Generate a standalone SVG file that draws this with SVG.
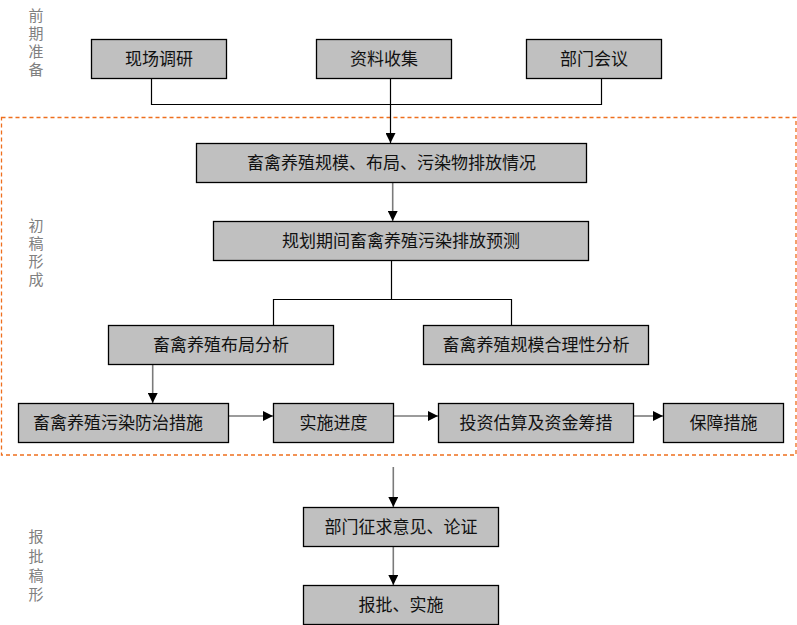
<svg xmlns="http://www.w3.org/2000/svg" width="797" height="625" viewBox="0 0 797 625">
<style>
.box{fill:#C0C0C0;stroke:#000;stroke-width:1.3}
.t{font-family:"Noto Sans CJK SC","Liberation Sans",sans-serif;font-size:17px;fill:#111;text-anchor:middle}
.side{font-family:"Liberation Sans","Noto Sans CJK SC",sans-serif;font-size:15px;fill:#808080;text-anchor:middle}
.blk{fill:none;stroke:#000;stroke-width:1.2}
.gry{fill:none;stroke:#7a7a7a;stroke-width:1.6}
</style>
<defs>
<marker id="ah" viewBox="0 0 10 10" refX="10" refY="5" markerWidth="10" markerHeight="10" markerUnits="userSpaceOnUse" orient="auto">
<path d="M0,0 L10,5 L0,10 Z" fill="#000"/>
</marker>
</defs>
<rect id="frame" x="1.5" y="117.5" width="794.5" height="337.5" fill="none" stroke="#EE6F1E" stroke-width="1.3" stroke-dasharray="4,3"/>
<g id="labels">
<text class="side" x="36" y="21">前</text>
<text class="side" x="36" y="39">期</text>
<text class="side" x="36" y="57">准</text>
<text class="side" x="36" y="75">备</text>
<text class="side" x="36" y="231">初</text>
<text class="side" x="36" y="249">稿</text>
<text class="side" x="36" y="267">形</text>
<text class="side" x="36" y="285">成</text>
<text class="side" x="36" y="542">报</text>
<text class="side" x="36" y="562">批</text>
<text class="side" x="36" y="581">稿</text>
<text class="side" x="36" y="600">形</text>
</g>
<g id="connectors">
<path class="blk" d="M151.5,78.5 V104.5 H601.5 V78.5"/>
<path class="blk" d="M390.5,78.5 V143" marker-end="url(#ah)"/>
<path class="gry" d="M392.7,182.5 V221" marker-end="url(#ah)"/>
<path class="blk" d="M391.5,260.5 V299.5 H273.5 V325.5 M391.5,299.5 H511.5 V325.5"/>
<path class="gry" d="M152.7,364.5 V403" marker-end="url(#ah)"/>
<path class="gry" d="M228.5,416 H273" marker-end="url(#ah)"/>
<path class="gry" d="M393.5,416 H438" marker-end="url(#ah)"/>
<path class="gry" d="M633.5,416 H663" marker-end="url(#ah)"/>
<path class="gry" d="M393.3,467 V507" marker-end="url(#ah)"/>
<path class="gry" d="M393.3,546.5 V585" marker-end="url(#ah)"/>
</g>
<g id="n1"><rect class="box" x="91.5" y="39.5" width="135" height="39"/><text class="t" x="159" y="65">现场调研</text></g>
<g id="n2"><rect class="box" x="316.5" y="39.5" width="135" height="39"/><text class="t" x="384" y="65">资料收集</text></g>
<g id="n3"><rect class="box" x="526.5" y="39.5" width="135" height="39"/><text class="t" x="594" y="65">部门会议</text></g>
<g id="n4"><rect class="box" x="196.5" y="143.5" width="390" height="39"/><text class="t" x="391.5" y="169">畜禽养殖规模、布局、污染物排放情况</text></g>
<g id="n5"><rect class="box" x="213.5" y="221.5" width="375" height="39"/><text class="t" x="401" y="247">规划期间畜禽养殖污染排放预测</text></g>
<g id="n6"><rect class="box" x="108.5" y="325.5" width="225" height="39"/><text class="t" x="221" y="351">畜禽养殖布局分析</text></g>
<g id="n7"><rect class="box" x="423.5" y="325.5" width="225" height="39"/><text class="t" x="536" y="351">畜禽养殖规模合理性分析</text></g>
<g id="n8"><rect class="box" x="18.5" y="403.5" width="210" height="39"/><text class="t" x="118" y="429">畜禽养殖污染防治措施</text></g>
<g id="n9"><rect class="box" x="273.5" y="403.5" width="120" height="39"/><text class="t" x="333.5" y="429">实施进度</text></g>
<g id="n10"><rect class="box" x="438.5" y="403.5" width="195" height="39"/><text class="t" x="536" y="429">投资估算及资金筹措</text></g>
<g id="n11"><rect class="box" x="663.5" y="403.5" width="120" height="39"/><text class="t" x="723.5" y="429">保障措施</text></g>
<g id="n12"><rect class="box" x="303.5" y="507.5" width="195" height="39"/><text class="t" x="401" y="533">部门征求意见、论证</text></g>
<g id="n13"><rect class="box" x="303.5" y="585.5" width="195" height="39"/><text class="t" x="401" y="611">报批、实施</text></g>
</svg>
